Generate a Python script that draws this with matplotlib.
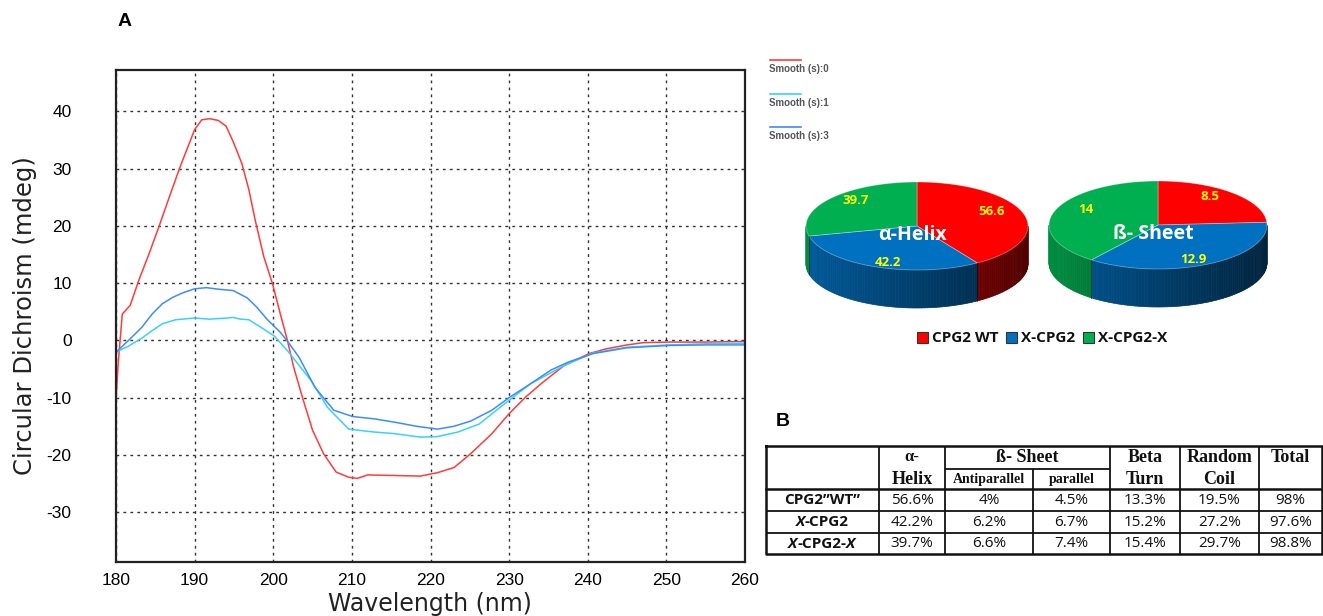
import numpy as np
import matplotlib
matplotlib.use("Agg")
import matplotlib.pyplot as plt
from matplotlib.patches import Polygon, Rectangle

plt.rcParams["axes.unicode_minus"] = False

# ---------------- data ----------------
wl_red = [180.0, 180.3, 180.8, 181.8, 182.9, 184.2, 185.5, 186.8, 188.1, 190.0, 190.9, 191.9,
          193.0, 194.0, 194.9, 196.0, 196.9, 197.7, 198.8, 199.9, 200.9, 201.8, 202.6, 203.7,
          205.0, 206.4, 208.0, 209.6, 210.7, 212.0, 215.5, 218.7, 220.9, 223.0, 225.1, 227.8,
          230.0, 232.1, 234.3, 237.0, 240.2, 242.3, 245.0, 247.1, 250.3, 255.0, 260.0]
cd_red = [-10.2, -3.6, 4.6, 6.1, 10.5, 15.1, 20.0, 25.1, 30.1, 36.8, 38.5, 38.7,
          38.4, 37.4, 34.7, 30.9, 26.3, 21.0, 14.6, 9.9, 4.6, 0.0, -4.7, -9.9,
          -15.7, -19.8, -23.0, -23.9, -24.1, -23.5, -23.6, -23.7, -23.1, -22.2, -19.8, -16.3,
          -12.8, -9.9, -7.3, -4.4, -2.3, -1.5, -0.8, -0.4, -0.3, -0.3, -0.2]

wl_cyan = [179.9, 181.6, 183.3, 184.6, 185.9, 187.6, 190.0, 191.9, 194.1, 194.9, 195.8, 196.9,
           198.4, 200.1, 201.8, 204.8, 206.9, 209.6, 212.8, 215.5, 218.7, 220.9, 223.5, 226.2,
           229.4, 232.7, 237.0, 240.7, 245.0, 250.3, 255.0, 260.0]
cd_cyan = [-2.1, -1.0, 0.4, 1.7, 2.9, 3.6, 3.9, 3.7, 3.9, 4.0, 3.7, 3.6,
           2.3, 0.8, -1.8, -7.0, -11.7, -15.5, -16.0, -16.3, -16.9, -16.8, -16.0, -14.6,
           -11.1, -7.6, -4.4, -2.2, -1.2, -0.8, -0.6, -0.5]

wl_blue = [179.9, 181.6, 183.3, 184.6, 185.9, 187.2, 188.5, 190.0, 191.5, 193.2, 194.9, 196.7,
           197.9, 199.2, 200.9, 202.0, 203.3, 205.3, 207.7, 210.1, 212.8, 215.5, 218.2, 220.9,
           223.0, 225.1, 227.8, 230.0, 232.7, 235.3, 237.5, 240.7, 245.0, 250.3, 255.0, 260.0]
cd_blue = [-2.2, 0.0, 2.3, 4.6, 6.4, 7.5, 8.3, 9.0, 9.2, 8.9, 8.7, 7.4,
           5.8, 3.7, 1.4, -0.5, -3.0, -8.2, -12.2, -13.3, -13.7, -14.3, -15.0, -15.5,
           -15.0, -14.1, -12.2, -10.0, -7.6, -5.2, -3.8, -2.3, -1.3, -0.9, -0.8, -0.8]

line_labels = ["Smooth (s):0", "Smooth (s):1", "Smooth (s):3"]

x_ticks = [180, 190, 200, 210, 220, 230, 240, 250, 260]
y_ticks = [-30, -20, -10, 0, 10, 20, 30, 40]

variants = ["CPG2 WT", "X-CPG2", "X-CPG2-X"]
helix_vals = [56.6, 42.2, 39.7]
sheet_vals = [8.5, 12.9, 14]
pie_titles = ["\u03b1-Helix", "\u00df- Sheet"]

table_rows = ["CPG2\u201dWT\u201d", "X-CPG2", "X-CPG2-X"]
col_helix = ["56.6%", "42.2%", "39.7%"]
col_anti = ["4%", "6.2%", "6.6%"]
col_par = ["4.5%", "6.7%", "7.4%"]
col_turn = ["13.3%", "15.2%", "15.4%"]
col_coil = ["19.5%", "27.2%", "29.7%"]
col_total = ["98%", "97.6%", "98.8%"]

# ---------------- styles ----------------
c_red = "#ff3b3b"
c_cyan = "#38d0ff"
c_blue = "#3d8cff"
pie_cols = ["#ff0000", "#0070c0", "#00b050"]

W, H = 1323, 616
fig = plt.figure(figsize=(W / 100, H / 100), dpi=100)

# ---------------- line chart ----------------
ax = fig.add_axes([116 / W, 1 - 562 / H, (745 - 116) / W, (562 - 70) / H])
ax.plot(wl_red, cd_red, color=c_red, lw=1.1)
ax.plot(wl_cyan, cd_cyan, color=c_cyan, lw=1.1)
ax.plot(wl_blue, cd_blue, color=c_blue, lw=1.1)
ax.set_xlim(180, 260)
ax.set_ylim(-38.7, 47.2)
ax.set_xticks(x_ticks)
ax.set_yticks(y_ticks)
ax.grid(True, color="#333333", linestyle=(0, (2, 3)), lw=1.0)
ax.tick_params(length=0, labelsize=12.5)
ax.tick_params(axis="y", pad=32)
ax.tick_params(axis="x", pad=8)
for lab in ax.get_xticklabels() + ax.get_yticklabels():
    lab.set_fontfamily("Liberation Sans")
for s in ax.spines.values():
    s.set_linewidth(1.6)
    s.set_color("#222222")
fig.text(430 / W, 1 - 604 / H, "Wavelength (nm)", fontsize=17, family="DejaVu Sans",
         ha="center", va="center", color="#222222")
fig.text(25 / W, 1 - 316 / H, "Circular Dichroism (mdeg)", fontsize=17.5, family="DejaVu Sans",
         ha="center", va="center", rotation=90, color="#222222")

# ---------------- overlay in pixel coordinates ----------------
ov = fig.add_axes([0, 0, 1, 1], facecolor="none")
ov.set_xlim(0, W)
ov.set_ylim(H, 0)
ov.axis("off")

ov.text(125, 22, "A", fontsize=14, fontweight="bold", ha="center", va="center", family="Liberation Sans")
ov.text(783, 421, "B", fontsize=14, fontweight="bold", ha="center", va="center", family="Liberation Sans")

# legend of line chart
for i, (lab, col) in enumerate(zip(line_labels, [c_red, c_cyan, c_blue])):
    y0 = 60 + i * 33.5
    ov.plot([770, 801], [y0, y0], color=col, lw=1.2)
    ov.text(769, y0 + 9, lab, fontsize=7, fontweight="bold", color="#555555",
            family="Liberation Sans", va="center", ha="left")


def shade(col, f):
    r, g, b = matplotlib.colors.to_rgb(col)
    return (r * f, g * f, b * f)


def pie3d(cx, cy, rx, ry, depth, vals, title):
    tot = float(sum(vals))
    starts, ends = [], []
    a = 90.0
    for v in vals:
        b = a - v / tot * 360.0
        starts.append(a)
        ends.append(b)
        a = b
    # sides (front visible part only)
    for (a0, a1), col in zip(zip(starts, ends), pie_cols):
        lo, hi = a1, a0
        for shift in (0, 360, -360):
            l2 = max(lo + shift, -180)
            h2 = min(hi + shift, 0)
            if h2 > l2:
                ts = np.linspace(l2, h2, max(int((h2 - l2) / 1.5), 2))
                for t0, t1 in zip(ts[:-1], ts[1:]):
                    tm = np.radians((t0 + t1) / 2)
                    f = 0.8 - 0.48 * (np.cos(tm) + 1) / 2
                    r0, r1 = np.radians(t0), np.radians(t1)
                    pts = [(cx + rx * np.cos(r0), cy - ry * np.sin(r0)),
                           (cx + rx * np.cos(r1), cy - ry * np.sin(r1)),
                           (cx + rx * np.cos(r1), cy - ry * np.sin(r1) + depth),
                           (cx + rx * np.cos(r0), cy - ry * np.sin(r0) + depth)]
                    ov.add_patch(Polygon(pts, closed=True, facecolor=shade(col, f),
                                         edgecolor=shade(col, f), lw=0.5))
                for tt in (l2, h2):
                    if -180 < tt < 0:
                        rr = np.radians(tt)
                        ov.plot([cx + rx * np.cos(rr)] * 2,
                                [cy - ry * np.sin(rr), cy - ry * np.sin(rr) + depth],
                                color=(0, 0, 0, 0.35), lw=0.6)
    # tops
    for (a0, a1), col in zip(zip(starts, ends), pie_cols):
        ts = np.radians(np.linspace(a0, a1, 120))
        pts = [(cx, cy)] + [(cx + rx * np.cos(t), cy - ry * np.sin(t)) for t in ts]
        ov.add_patch(Polygon(pts, closed=True, facecolor=col, edgecolor=(1, 1, 1, 0.35), lw=0.6))
    # value labels
    for (a0, a1), v in zip(zip(starts, ends), vals):
        tm = np.radians((a0 + a1) / 2)
        fy = 0.7 if np.sin(tm) >= 0 else 1.05
        lx = cx + 0.7 * rx * np.cos(tm)
        ly = cy - fy * ry * np.sin(tm) - 6
        ov.text(lx, ly, f"{v:g}", color="#ffff00", fontsize=9.5, fontweight="bold",
                ha="center", va="center", family="Open Sans")
    ov.text(cx - 5, cy + 9, title, color="white", fontsize=14, fontweight="bold",
            ha="center", va="center", family="Open Sans")


pie3d(917, 226, 111, 44, 38, helix_vals, pie_titles[0])
pie3d(1158, 225, 109, 44, 38, sheet_vals, pie_titles[1])

# pie legend
leg_x = [925, 1014, 1091]
for x0, lab, col in zip(leg_x, variants, pie_cols):
    ov.add_patch(Rectangle((x0 - 8, 332), 11, 11, facecolor=col, edgecolor="#333333", lw=0.8))
    ov.text(x0 + 7, 338, lab, fontsize=11, fontweight="bold", ha="left", va="center",
            family="Open Sans", color="#111111")

# ---------------- table ----------------
xs = [766, 879, 945, 1033, 1110, 1180, 1259, 1322]
ys = [446, 469, 489, 511, 533, 554]
lk = dict(color="#111111", lw=1.3, solid_capstyle="butt")
ov.plot([xs[0], xs[-1], xs[-1], xs[0], xs[0]], [ys[0], ys[0], ys[-1], ys[-1], ys[0]],
        color="#111111", lw=1.8)
ov.plot([xs[2], xs[4]], [ys[1], ys[1]], **lk)
ov.plot([xs[0], xs[-1]], [ys[2], ys[2]], color="#111111", lw=1.8)
for yy in ys[3:5]:
    ov.plot([xs[0], xs[-1]], [yy, yy], **lk)
for i, xx in enumerate(xs[1:-1], start=1):
    top = ys[1] if i == 3 else ys[0]
    ov.plot([xx, xx], [top, ys[-1]], **lk)

serif = "Liberation Serif"
hk = dict(family=serif, fontweight="bold", ha="center", va="center", color="#111111")
cxm = [(xs[i] + xs[i + 1]) / 2 for i in range(len(xs) - 1)]
ov.text(cxm[1], 457, "\u03b1-", fontsize=12, **hk)
ov.text(cxm[1], 479, "Helix", fontsize=13, **hk)
ov.text((xs[2] + xs[4]) / 2, 457, "\u00df- Sheet", fontsize=13, **hk)
ov.text(cxm[2], 479, "Antiparallel", fontsize=10, **hk)
ov.text(cxm[3], 479, "parallel", fontsize=10, **hk)
ov.text(cxm[4], 457, "Beta", fontsize=13, **hk)
ov.text(cxm[4], 479, "Turn", fontsize=13, **hk)
ov.text(cxm[5], 457, "Random", fontsize=13, **hk)
ov.text(cxm[5], 479, "Coil", fontsize=13, **hk)
ov.text(cxm[6], 457, "Total", fontsize=13, **hk)

bk = dict(family="Open Sans", ha="center", va="center", fontsize=11, color="#111111")
row_labels_rich = [
    [("CPG2\u201dWT\u201d", "normal")],
    [("X", "italic"), ("-CPG2", "normal")],
    [("X", "italic"), ("-CPG2-", "normal"), ("X", "italic")],
]
for r in range(3):
    yc = (ys[r + 2] + ys[r + 3]) / 2
    parts = row_labels_rich[r]
    full = "".join(p for p, _ in parts)
    if len(parts) == 1:
        ov.text(cxm[0], yc, full, fontweight="bold", **bk)
    else:
        tmp = ov.text(0, 0, full, fontweight="bold", **bk)
        fig.canvas.draw()
        bb = tmp.get_window_extent()
        tmp.remove()
        x_cur = cxm[0] - bb.width / 2
        for p, style in parts:
            t = ov.text(x_cur, yc, p, fontweight="bold", style=style, family="Open Sans",
                        ha="left", va="center", fontsize=11, color="#111111")
            fig.canvas.draw()
            x_cur += t.get_window_extent().width
    for ci, col in enumerate([col_helix, col_anti, col_par, col_turn, col_coil, col_total], start=1):
        ov.text(cxm[ci], yc, col[r], **bk)

fig.savefig("out.png", dpi=100)
